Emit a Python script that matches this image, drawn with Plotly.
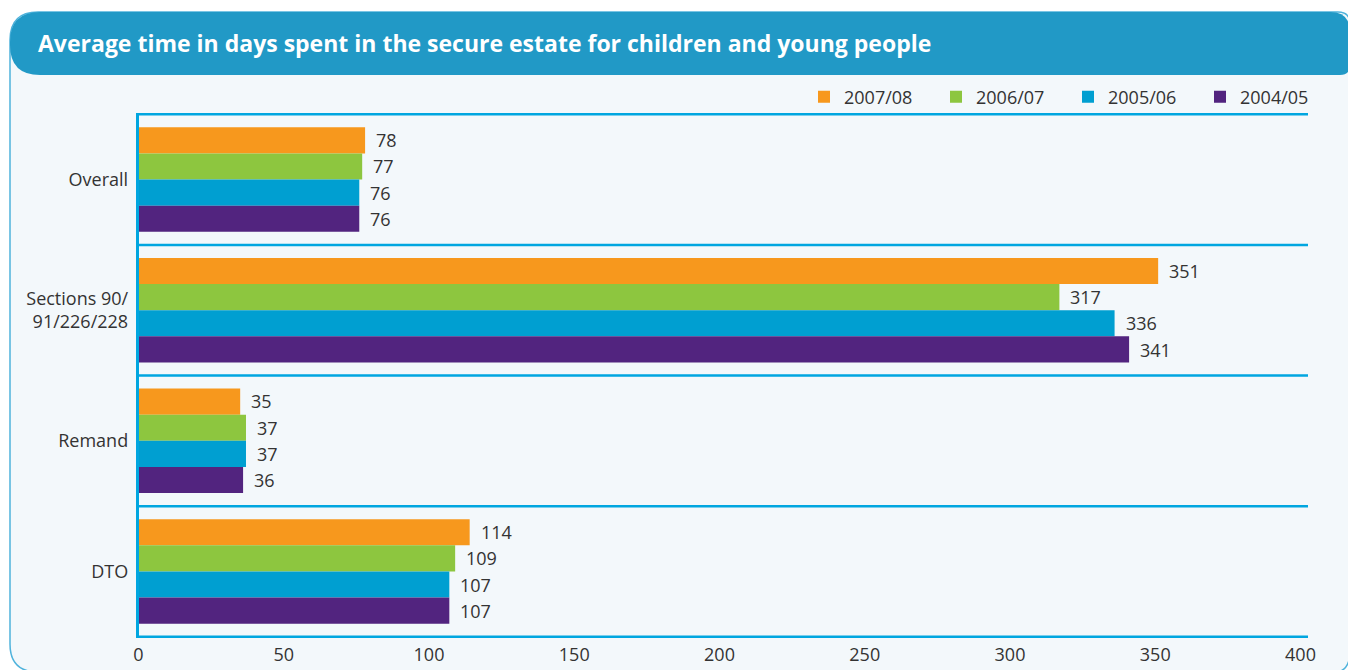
import plotly.graph_objects as go

categories = ["Overall", "Sections 90/<br>91/226/228", "Remand", "DTO"]
years = ["2007/08", "2006/07", "2005/06", "2004/05"]
values = {
    "2007/08": [78, 351, 35, 114],
    "2006/07": [77, 317, 37, 109],
    "2005/06": [76, 336, 37, 107],
    "2004/05": [76, 341, 36, 107],
}
colors = {"2007/08": "#f7981d", "2006/07": "#8dc63f", "2005/06": "#009fd1", "2004/05": "#52247f"}
x_ticks = [0, 50, 100, 150, 200, 250, 300, 350, 400]
title_text = "Average time in days spent in the secure estate for children and young people"

W, H = 1348, 670
FONT = "Open Sans"
TXT = "#333333"
LINE = "#00a6e0"
BAR_PX = 26.4  # pixel thickness of one bar (132px group * 0.8 / 4)
PX_PER_UNIT = 2.905
AX_L, AX_R = 138.5, 1308

fig = go.Figure()
for yr in years:
    fig.add_trace(go.Bar(
        y=categories, x=values[yr], name=yr, orientation="h",
        marker=dict(color=colors[yr], line=dict(width=0)),
    ))

def px(x):
    return x / W

def py(y):
    return 1 - y / H

shapes = []
# panel background with rounded corners
r = 28
x0, y0 = 10, 12
panel = (f"M {px(x0)} {py(y0 + r)} "
         f"Q {px(x0)} {py(y0)} {px(x0 + r)} {py(y0)} "
         f"L {px(1348 - 10)} {py(y0)} "
         f"Q {px(1348 + 2)} {py(y0)} {px(1348 + 2)} {py(y0 + 12)} "
         f"L {px(1348 + 2)} {py(655)} "
         f"Q {px(1348)} {py(672)} {px(1335)} {py(672)} "
         f"L {px(x0 + r)} {py(672)} "
         f"Q {px(x0)} {py(672)} {px(x0)} {py(672 - r)} Z")
shapes.append(dict(type="path", path=panel, xref="paper", yref="paper",
                   fillcolor="#f3f8fb", line=dict(color="#4fb3dc", width=1.5), layer="below"))
# title band
tb0, tb1 = 12, 75
rr = 30
band = (f"M {px(x0)} {py(tb0 + rr)} "
        f"Q {px(x0)} {py(tb0)} {px(x0 + rr)} {py(tb0)} "
        f"L {px(1330)} {py(tb0)} "
        f"Q {px(1350)} {py(tb0)} {px(1350)} {py(tb0 + 20)} "
        f"L {px(1350)} {py(tb1 - 10)} "
        f"Q {px(1350)} {py(tb1)} {px(1340)} {py(tb1)} "
        f"L {px(x0 + rr)} {py(tb1)} "
        f"Q {px(x0)} {py(tb1)} {px(x0)} {py(tb1 - rr)} Z")
shapes.append(dict(type="path", path=band, xref="paper", yref="paper",
                   fillcolor="#2199c6", line=dict(width=0), layer="below"))
# category separators
for b in [-0.5, 0.5, 1.5, 2.5, 3.5]:
    shapes.append(dict(type="line", xref="x domain", yref="y", x0=0, x1=1, y0=b, y1=b,
                       line=dict(color=LINE, width=2.5)))

annotations = [dict(text=f"<b>{title_text}</b>", x=px(36), y=py(43), xref="paper", yref="paper",
                    xanchor="left", yanchor="middle", showarrow=False,
                    font=dict(size=23, color="white", family=FONT))]
for i, yr in enumerate(years):
    for cat, v in zip(categories, values[yr]):
        annotations.append(dict(
            text=str(v), x=v, y=cat, xref="x", yref="y", xanchor="left", yanchor="middle",
            xshift=9, yshift=(1.5 - i) * BAR_PX, showarrow=False,
            font=dict(size=18, color=TXT, family=FONT)))

fig.update_layout(
    width=W, height=H,
    margin=dict(l=0, r=0, t=0, b=0),
    paper_bgcolor="white", plot_bgcolor="rgba(0,0,0,0)",
    barmode="group", bargap=0.2, bargroupgap=0,
    font=dict(family=FONT, size=18, color=TXT),
    shapes=shapes,
    showlegend=True,
    legend=dict(orientation="h", x=1332 / W, xanchor="right", y=py(97), yanchor="middle",
                font=dict(size=18, color=TXT, family=FONT), bgcolor="rgba(0,0,0,0)",
                entrywidth=87, entrywidthmode="pixels", traceorder="normal",
                itemwidth=30),
    xaxis=dict(domain=[AX_L / W, AX_R / W], range=[0, (AX_R - AX_L) / PX_PER_UNIT],
               tickvals=x_ticks,
               showgrid=False, zeroline=False, showline=False, ticks="",
               ticklabelstandoff=4,
               tickfont=dict(size=18, color=TXT, family=FONT), automargin=False),
    yaxis=dict(domain=[py(638), py(113)], autorange="reversed",
               showgrid=False, zeroline=False, showline=True, linecolor=LINE, linewidth=2.5,
               ticks="", ticklabelstandoff=4,
               tickfont=dict(size=18, color=TXT, family=FONT), automargin=False),
    annotations=annotations,
)

fig.write_html("out.html", config={"displayModeBar": False},
               post_script="document.body.style.margin='0';document.body.style.overflow='hidden';")
